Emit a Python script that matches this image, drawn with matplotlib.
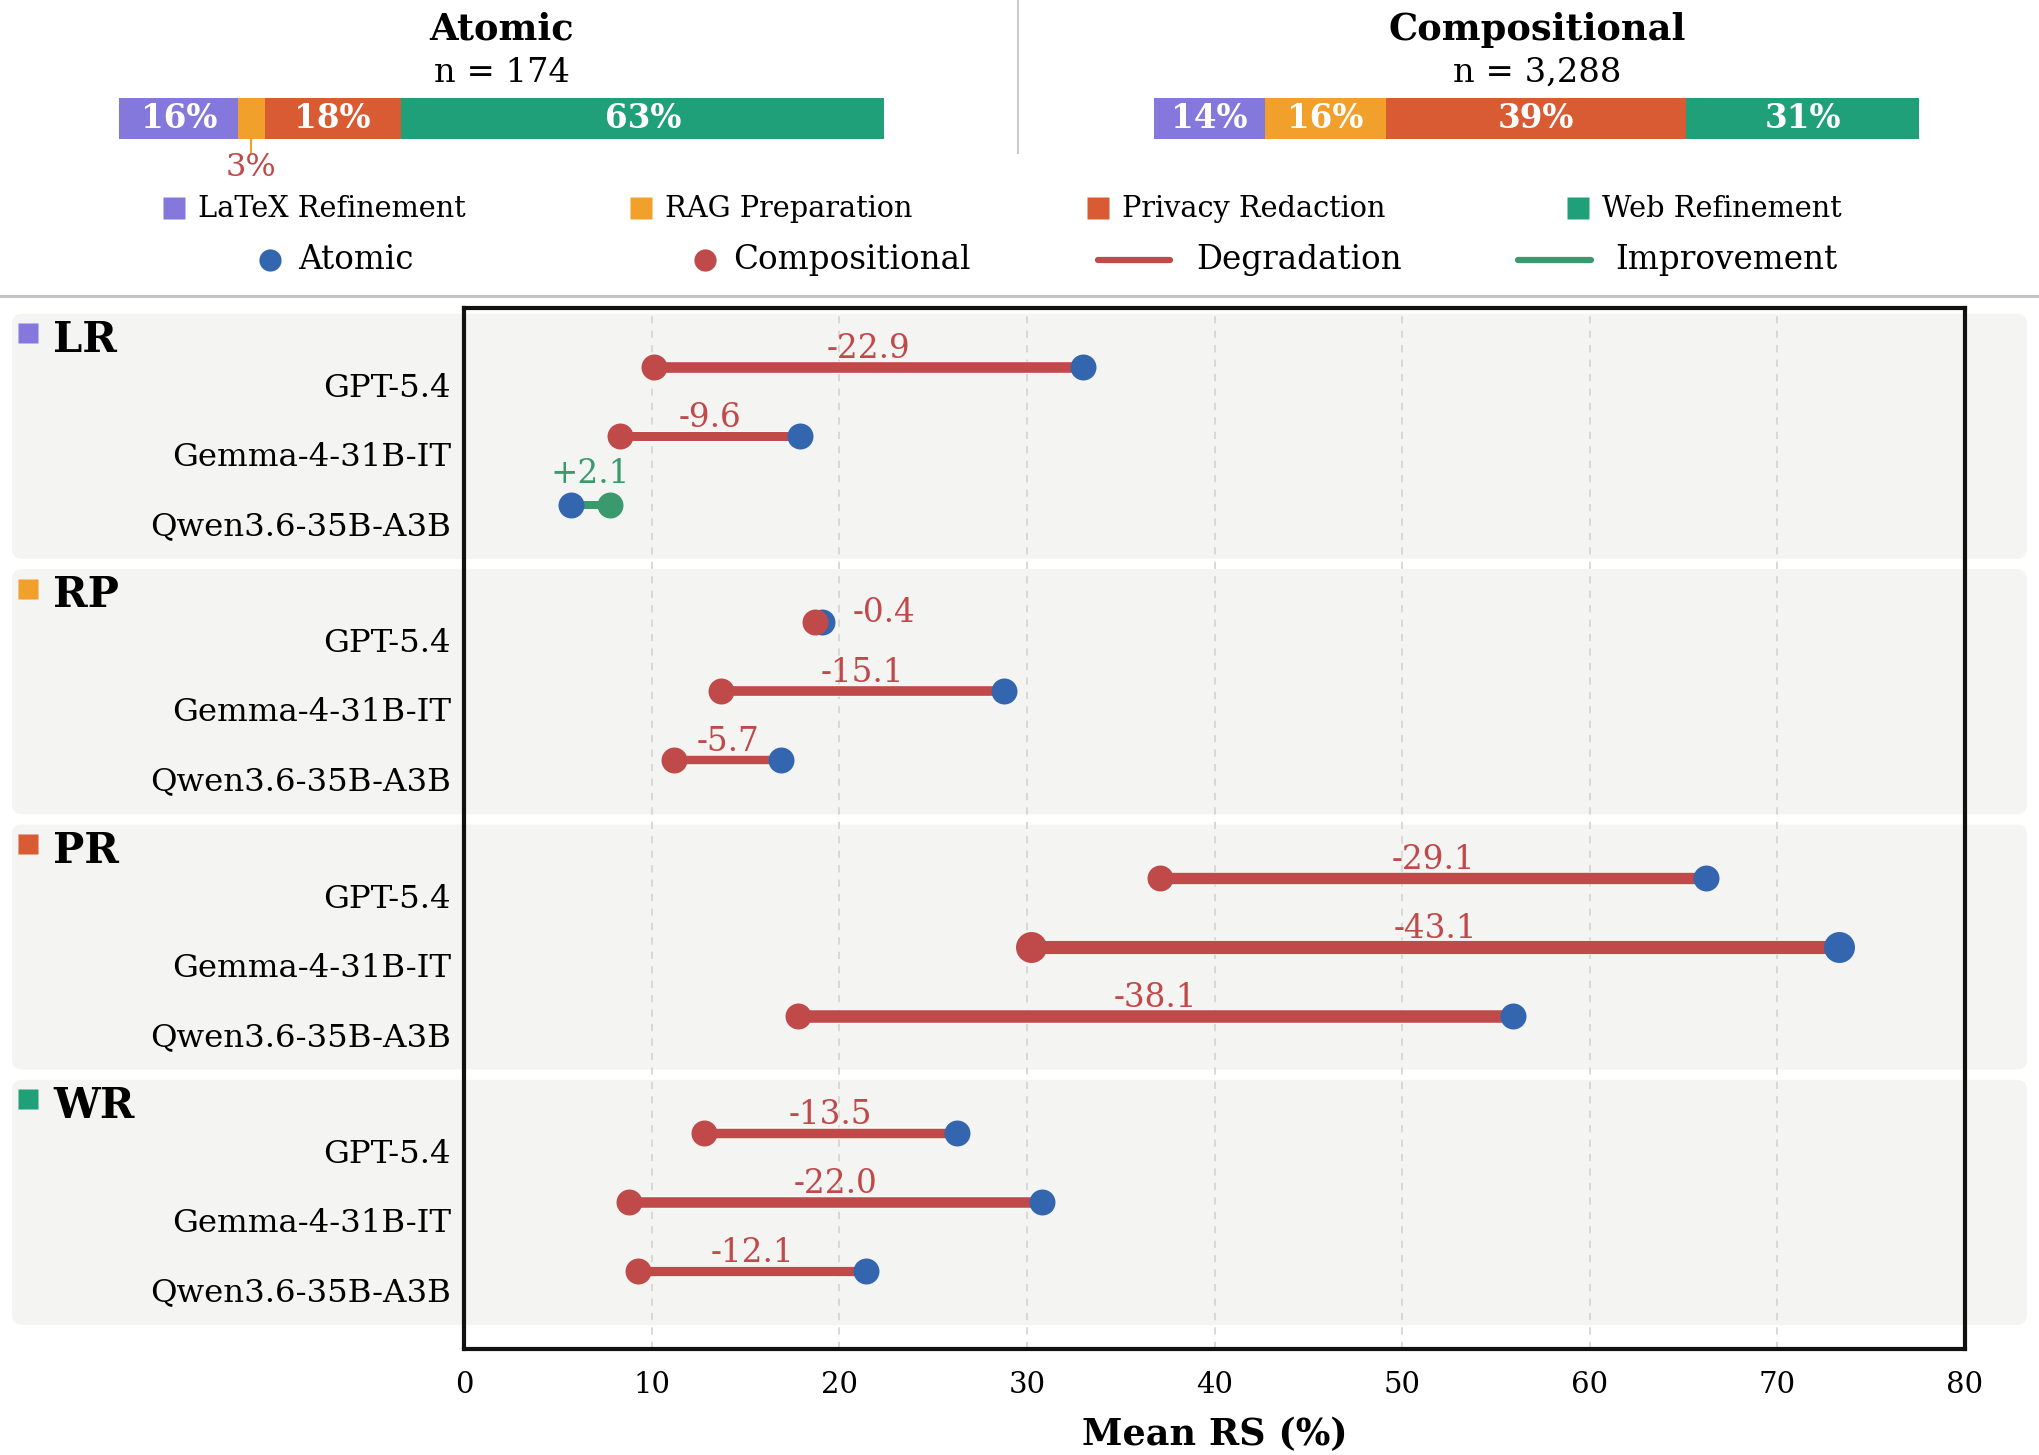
import matplotlib
matplotlib.use('Agg')
import matplotlib.pyplot as plt
import matplotlib.patheffects as pe
from matplotlib.patches import FancyBboxPatch
from matplotlib.transforms import blended_transform_factory

plt.rcParams['font.family'] = 'DejaVu Serif'

# ---- data ----
tasks = ['LR', 'RP', 'PR', 'WR']
task_names = ['LaTeX Refinement', 'RAG Preparation', 'Privacy Redaction', 'Web Refinement']
task_colors = ['#8478dc', '#f0a02b', '#d85b34', '#20a078']
models = ['GPT-5.4', 'Gemma-4-31B-IT', 'Qwen3.6-35B-A3B']

# task mix of the two test sets
atomic_counts = [27, 6, 31, 110]
comp_counts = [473, 520, 1290, 1005]

# mean RS (%) per task (one list per task, models in order above)
atomic_rs = [
    [33.0, 17.9, 5.7],
    [19.1, 28.8, 16.9],
    [66.2, 73.3, 55.9],
    [26.3, 30.8, 21.4],
]
comp_rs = [
    [10.1, 8.3, 7.8],
    [18.7, 13.7, 11.2],
    [37.1, 30.2, 17.8],
    [12.8, 8.8, 9.3],
]

BLUE = '#3366ae'
RED = '#c0494a'
GREEN = '#3a9a6d'
BAND = '#f4f4f2'

W, H = 2040, 1455
fig = plt.figure(figsize=(W / 100, H / 100), dpi=100)

# background axes in pixel units (header, legend, row bands)
bg = fig.add_axes([0, 0, 1, 1], zorder=0)
bg.set_xlim(0, W)
bg.set_ylim(H, 0)
bg.axis('off')

ax = fig.add_axes([464 / W, 1 - 1349 / H, (1965 - 464) / W, (1349 - 308) / H], zorder=1)
ax.set_facecolor('none')

# ---- header: task mix bars ----
def mix_bar(cx, title, counts):
    total = sum(counts)
    bw = 765
    bg.text(cx, 30, title, ha='center', va='center', fontsize=26.5, fontweight='bold')
    bg.text(cx, 73, f'n = {total:,}', ha='center', va='center', fontsize=24.3)
    left = cx - bw / 2
    for cnt, col in zip(counts, task_colors):
        w = bw * cnt / total
        pct = 100 * cnt / total
        bg.barh(118.5, w, left=left, height=41, color=col, edgecolor='none')
        mid = left + w / 2
        if pct >= 5:
            bg.text(mid, 119, f'{pct:.0f}%', ha='center', va='center', color='white',
                    fontsize=23.5, fontweight='bold')
        else:
            bg.plot([mid, mid], [139, 153], color=col, lw=1.5)
            bg.text(mid, 168, f'{pct:.0f}%', ha='center', va='center', color=RED, fontsize=23)
        left += w

mix_bar(502, 'Atomic', atomic_counts)
mix_bar(1537, 'Compositional', comp_counts)
bg.plot([1018, 1018], [0, 153], color='#cccccc', lw=1.5)

# ---- legend ----
leg1_x = [174, 641, 1098, 1578]
for x, name, col in zip(leg1_x, task_names, task_colors):
    bg.plot(x, 208, marker='s', ms=16, color=col, mec='none')
    bg.text(x + 24, 209, name, ha='left', va='center', fontsize=20.7)

ROW2 = 260
bg.plot(270, ROW2, 'o', ms=16, color=BLUE, mec='none')
bg.text(298, ROW2, 'Atomic', ha='left', va='center', fontsize=23.5)
bg.plot(705, ROW2, 'o', ms=16, color=RED, mec='none')
bg.text(733, ROW2, 'Compositional', ha='left', va='center', fontsize=23.5)
bg.plot([1098, 1170], [ROW2, ROW2], color=RED, lw=4.5, solid_capstyle='round')
bg.text(1196, ROW2, 'Degradation', ha='left', va='center', fontsize=23.5)
bg.plot([1518, 1591], [ROW2, ROW2], color=GREEN, lw=4.5, solid_capstyle='round')
bg.text(1615, ROW2, 'Improvement', ha='left', va='center', fontsize=23.5)

bg.plot([0, W], [296, 296], color='#c4c4c4', lw=2.2)

# ---- dumbbell panel ----
GAP = 3.70
ax.set_xlim(0, 80)
ax.set_ylim(14.23, -0.855)

trans = blended_transform_factory(ax.transAxes, ax.transData)
biggest = max(abs(c - a) for ta, tc in zip(atomic_rs, comp_rs) for a, c in zip(ta, tc))

for g, (task, col) in enumerate(zip(tasks, task_colors)):
    y0 = g * GAP
    # band behind the group, in pixel space
    top = H - ax.transData.transform((0, y0 - 0.77))[1]
    bot = H - ax.transData.transform((0, y0 + 2.78))[1]
    bg.add_patch(FancyBboxPatch((12, top), 2015, bot - top,
                                boxstyle='round,pad=0,rounding_size=10',
                                fc=BAND, ec='none'))
    ax.plot(-0.2905, y0 - 0.49, marker='s', ms=15, color=col, mec='none',
            transform=trans, clip_on=False)
    ax.text(-0.2738, y0 - 0.217, task, transform=trans, ha='left', va='baseline',
            fontsize=30, fontweight='bold', clip_on=False)

    for r, model in enumerate(models):
        y = y0 + r
        a = atomic_rs[g][r]
        c = comp_rs[g][r]
        d = c - a
        lc = RED if d < 0 else GREEN
        lw = 5.6 + 0.09 * abs(d)
        ms = 22.3 if abs(d) == biggest else 18.7
        ax.plot([c, a], [y, y], color=lc, lw=lw, solid_capstyle='butt', zorder=3,
                path_effects=[pe.withStroke(linewidth=lw + 1.5, foreground='white', alpha=0.6)])
        ax.plot(a, y, 'o', ms=ms, color=BLUE, mec='none', zorder=4)
        ax.plot(c, y, 'o', ms=ms, color=lc, mec='none', zorder=5)
        txt = f'{d:+.1f}'
        if abs(d) < 1:
            ax.annotate(txt, (max(a, c), y), xytext=(22, 0), textcoords='offset points',
                        ha='left', va='baseline', color=lc, fontsize=23.5)
        else:
            lift = 16 if abs(d) < 3 else 6.5
            ax.annotate(txt, ((a + c) / 2, y), xytext=(0, lift), textcoords='offset points',
                        ha='center', va='baseline', color=lc, fontsize=23.5)
        ax.text(-0.0087, y + 0.435, model, transform=trans, ha='right', va='baseline',
                fontsize=23.3, clip_on=False)

ax.set_xticks(range(0, 81, 10))
ax.set_yticks([])
ax.tick_params(axis='x', length=0, pad=16, labelsize=21)
ax.grid(axis='x', ls=(0, (4, 4)), color='#d5d5d5', lw=1.3)
ax.set_axisbelow(True)
for s in ax.spines.values():
    s.set_linewidth(3)
    s.set_color('#111111')
ax.set_xlabel('Mean RS (%)', fontsize=26.3, fontweight='bold', labelpad=13)

fig.savefig('out.png', dpi=100)
